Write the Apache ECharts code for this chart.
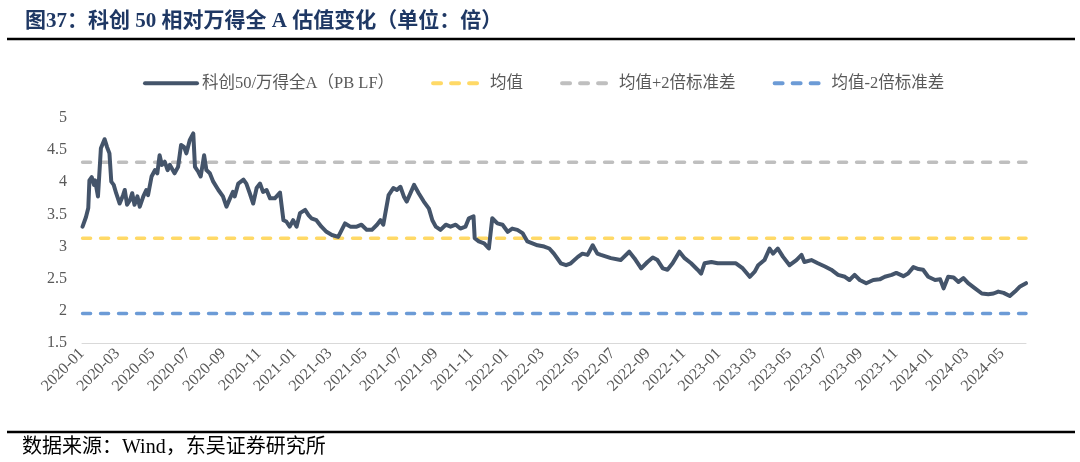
<!DOCTYPE html>
<html><head><meta charset="utf-8">
<script src="https://cdn.jsdelivr.net/npm/echarts@6/dist/echarts.min.js"></script>
<style>html,body{margin:0;padding:0;background:#fff}#c{width:1080px;height:462px}</style>
</head><body><div id="c"></div>
<script>
const titleText = '图37：科创 50 相对万得全 A 估值变化（单位：倍）';
const sourceText = '数据来源：Wind，东吴证券研究所';
const seriesNames = ['科创50/万得全A（PB LF）', '均值', '均值+2倍标准差', '均值-2倍标准差'];
const tickLabels = ['2020-01','2020-03','2020-05','2020-07','2020-09','2020-11',
  '2021-01','2021-03','2021-05','2021-07','2021-09','2021-11',
  '2022-01','2022-03','2022-05','2022-07','2022-09','2022-11',
  '2023-01','2023-03','2023-05','2023-07','2023-09','2023-11',
  '2024-01','2024-03','2024-05'];
const dates = [
'2020-01-02','2020-01-08','2020-01-12','2020-01-14','2020-01-18','2020-01-22','2020-01-24','2020-01-29',
'2020-02-03','2020-02-09','2020-02-13','2020-02-17','2020-02-20','2020-02-24','2020-02-28',
'2020-03-05','2020-03-11','2020-03-14','2020-03-18','2020-03-23','2020-03-27','2020-03-31',
'2020-04-05','2020-04-09','2020-04-15','2020-04-20','2020-04-23','2020-04-29',
'2020-05-05','2020-05-09','2020-05-13','2020-05-17','2020-05-22','2020-05-27','2020-05-31',
'2020-06-08','2020-06-14','2020-06-19','2020-06-24','2020-06-28',
'2020-07-04','2020-07-10','2020-07-13','2020-07-19','2020-07-23','2020-07-29',
'2020-08-02','2020-08-08','2020-08-14','2020-08-23','2020-08-31',
'2020-09-06','2020-09-12','2020-09-17','2020-09-20','2020-09-26',
'2020-10-05','2020-10-10','2020-10-16','2020-10-22','2020-10-28',
'2020-11-03','2020-11-08','2020-11-14','2020-11-20','2020-11-28',
'2020-12-07','2020-12-13','2020-12-18','2020-12-24','2020-12-30',
'2021-01-05','2021-01-11','2021-01-20','2021-01-26','2021-01-31',
'2021-02-08','2021-02-16','2021-02-24','2021-03-05','2021-03-16','2021-03-28',
'2021-04-06','2021-04-17','2021-04-25','2021-05-04','2021-05-13','2021-05-22','2021-05-28',
'2021-06-02','2021-06-11','2021-06-19','2021-06-25','2021-07-01','2021-07-07','2021-07-12','2021-07-25',
'2021-08-02','2021-08-11','2021-08-20','2021-08-26','2021-09-01','2021-09-09','2021-09-18','2021-09-26',
'2021-10-05','2021-10-13','2021-10-22','2021-10-28','2021-11-05','2021-11-07','2021-11-14','2021-11-23',
'2021-12-01','2021-12-07','2021-12-16','2021-12-25',
'2022-01-03','2022-01-11','2022-01-20','2022-01-29','2022-02-06','2022-02-14','2022-02-22',
'2022-03-05','2022-03-14','2022-03-22','2022-04-03','2022-04-12','2022-04-20',
'2022-05-02','2022-05-10','2022-05-19','2022-05-28','2022-06-05','2022-06-11','2022-06-28',
'2022-07-15','2022-07-30','2022-08-08','2022-08-20','2022-08-31','2022-09-09','2022-09-17','2022-09-26',
'2022-10-04','2022-10-13','2022-10-25','2022-11-03','2022-11-14','2022-11-25',
'2022-12-01','2022-12-07','2022-12-19','2022-12-30',
'2023-01-14','2023-01-31','2023-02-11','2023-02-22','2023-03-02','2023-03-08','2023-03-19','2023-03-28',
'2023-04-03','2023-04-11','2023-04-20','2023-05-01','2023-05-13','2023-05-22','2023-05-27',
'2023-06-08','2023-06-19','2023-07-01','2023-07-12','2023-07-24','2023-08-05','2023-08-13','2023-08-22','2023-08-31',
'2023-09-11','2023-09-23','2023-10-04','2023-10-13','2023-10-25','2023-11-02','2023-11-14','2023-11-22',
'2023-12-01','2023-12-10','2023-12-18','2023-12-27',
'2024-01-08','2024-01-17','2024-01-23','2024-01-31','2024-02-09','2024-02-17','2024-02-25',
'2024-03-04','2024-03-16','2024-03-28','2024-04-08','2024-04-17','2024-04-25',
'2024-05-04','2024-05-15','2024-05-24','2024-06-02','2024-06-12'];
const values = [
3.31,3.46,3.60,4.03,4.08,3.96,4.03,3.78,
4.53,4.67,4.55,4.45,4.01,3.96,3.83,
3.67,3.80,3.88,3.65,3.72,3.83,3.65,
3.78,3.62,3.78,3.88,3.80,4.09,
4.19,4.14,4.42,4.27,4.32,4.19,4.27,
4.14,4.24,4.58,4.55,4.45,
4.66,4.76,4.24,4.16,4.09,4.42,
4.19,4.14,4.01,3.88,3.78,
3.62,3.75,3.85,3.78,3.98,
4.04,3.98,3.83,3.67,3.91,
3.98,3.85,3.88,3.75,3.75,
3.84,3.41,3.39,3.31,3.41,
3.31,3.52,3.57,3.49,3.44,
3.41,3.31,3.23,3.18,3.15,3.36,
3.31,3.31,3.34,3.26,3.26,3.34,3.41,
3.34,3.80,3.91,3.88,3.93,3.78,3.70,3.96,
3.83,3.70,3.59,3.41,3.31,3.26,3.34,3.31,
3.34,3.28,3.31,3.44,3.47,3.13,3.08,3.05,
2.97,3.44,3.36,3.34,
3.23,3.28,3.26,3.21,3.08,3.05,3.02,
3.00,2.97,2.89,2.74,2.71,2.74,
2.84,2.89,2.87,3.02,2.89,2.87,2.82,
2.79,2.92,2.82,2.66,2.76,2.83,2.79,2.66,
2.64,2.74,2.92,2.82,2.74,2.64,
2.58,2.74,2.76,2.74,
2.74,2.74,2.66,2.53,2.61,2.71,2.79,2.97,
2.89,2.97,2.84,2.71,2.79,2.87,2.76,
2.79,2.74,2.69,2.64,2.56,2.53,2.48,2.56,2.48,
2.43,2.48,2.49,2.53,2.56,2.59,2.54,2.58,
2.68,2.65,2.64,2.53,
2.48,2.49,2.35,2.53,2.52,2.45,2.51,
2.43,2.35,2.27,2.26,2.27,2.30,
2.28,2.23,2.30,2.38,2.43];
const meanValue = 3.13;
const upperValue = 4.31;
const lowerValue = 1.96;

function toMonths(s) {
  const p = s.split('-').map(Number);
  const dim = new Date(p[0], p[1], 0).getDate();
  return (p[0] - 2020) * 12 + (p[1] - 1) + (p[2] - 1) / dim;
}
const xs = dates.map(toMonths);
const xStart = xs[0], xEnd = xs[xs.length - 1];
const mainData = xs.map((x, i) => [x, values[i]]);
const flat = v => [[xStart, v], [xEnd, v]];

const serif = '"Liberation Serif", "Noto Sans CJK SC", serif';
const dashStyle = (c) => ({ color: c, width: 3.5, type: [8, 10], cap: 'round' });

const chart = echarts.init(document.getElementById('c'), null, { renderer: 'canvas' });
chart.setOption({
  animation: false,
  backgroundColor: '#fff',
  title: {
    text: titleText, left: 20, top: 6,
    textStyle: { fontFamily: serif, fontSize: 21, fontWeight: 'bold', color: '#1F3864' }
  },
  legend: {
    top: 70, left: 138, itemWidth: 52, itemHeight: 12, itemGap: 37,
    textStyle: { color: '#595959', fontSize: 16.5, fontFamily: serif },
    lineStyle: { width: 4 },
    itemStyle: { opacity: 0, borderWidth: 0 },
    data: seriesNames
  },
  grid: { left: 82, right: 54, top: 118, bottom: 119, containLabel: false },
  xAxis: {
    type: 'value', min: 0, max: xEnd, interval: 2,
    axisLine: { show: true, onZero: false, lineStyle: { color: '#D9D9D9', width: 1 } },
    axisTick: { show: false }, splitLine: { show: false },
    axisLabel: {
      rotate: 45, margin: 8, color: '#595959', fontSize: 16, fontFamily: serif,
      showMaxLabel: false,
      formatter: v => (Math.abs(v % 2) < 1e-9 && v / 2 < tickLabels.length) ? tickLabels[Math.round(v / 2)] : ''
    }
  },
  yAxis: {
    type: 'value', min: 1.5, max: 5, interval: 0.5,
    axisLine: { show: false }, axisTick: { show: false }, splitLine: { show: false },
    axisLabel: { color: '#595959', fontSize: 16, fontFamily: serif, margin: 15 }
  },
  series: [
    { name: seriesNames[0], type: 'line', data: mainData, symbol: 'none', z: 5,
      lineStyle: { color: '#44546A', width: 4, join: 'round', cap: 'round' }, itemStyle: { color: '#44546A' } },
    { name: seriesNames[1], type: 'line', data: flat(meanValue), symbol: 'none', z: 3,
      lineStyle: dashStyle('#FFD966'), itemStyle: { color: '#FFD966' } },
    { name: seriesNames[2], type: 'line', data: flat(upperValue), symbol: 'none', z: 3,
      lineStyle: dashStyle('#BFBFBF'), itemStyle: { color: '#BFBFBF' } },
    { name: seriesNames[3], type: 'line', data: flat(lowerValue), symbol: 'none', z: 3,
      lineStyle: dashStyle('#6C9BD6'), itemStyle: { color: '#6C9BD6' } }
  ],
  graphic: [
    { type: 'line', shape: { x1: 7, y1: 39, x2: 1075, y2: 39 }, style: { stroke: '#000', lineWidth: 2.5 } },
    { type: 'line', shape: { x1: 7, y1: 432, x2: 1075, y2: 432 }, style: { stroke: '#000', lineWidth: 2.5 } },
    { type: 'text', left: 22, top: 438, style: { text: sourceText, fontSize: 20, fontFamily: serif, fill: '#000' } }
  ]
});
</script></body></html>
